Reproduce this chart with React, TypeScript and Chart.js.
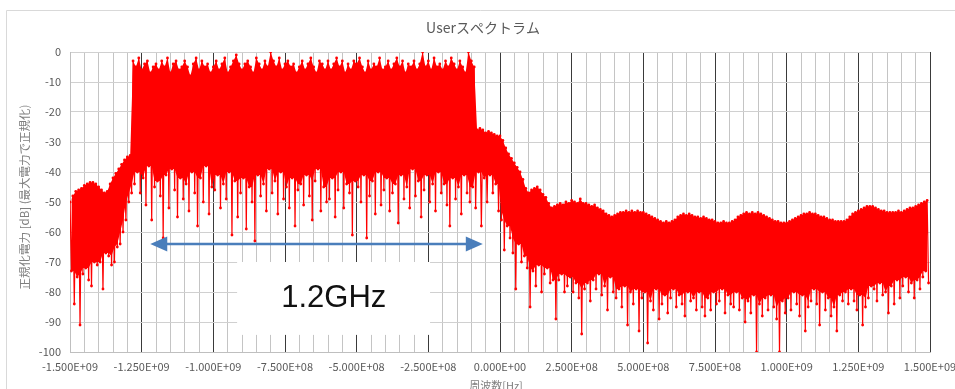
import React, { useEffect, useRef } from "react";
import { Chart, registerables } from "chart.js";

Chart.register(...registerables);

// ---- text ----
const chartTitle = "Userスペクトラム";
const yAxisTitle = "正規化電力 [dB] (最大電力で正規化)";
const xAxisTitle = "周波数[Hz]";
const spanLabel = "1.2GHz";

// ---- axes ----
const xMinHz = -1.5e9;
const xMaxHz = 1.5e9;
const xMinorStepHz = 5e7;
const xMajorEvery = 5; // one labelled tick every 2.5E+08
const yMinDb = -100;
const yMaxDb = 0;
const yStepDb = 10;

// ---- spectrum: per 1E+07 Hz bin, the peak and the trough ----
const freqStartHz = -1.5e9;
const freqStepHz = 1e7;

const peakDb = [
  -50, -48, -46.5, -46, -45.5, -44.5, -44, -43.5, -43.5, -44,
  -45, -46, -47, -46.5, -44, -42, -40.5, -39, -37.5, -36,
  -35, -34.5, -3, -5, -2, -6, -4, -3, -7, -5,
  -4, -6, -3, -5, -2, -7, -4, -3, -6, -5,
  -3, -5, -8, -4, -2, -6, -3, -5, -4, -7,
  -5, -3, -6, -4, -2, -7, -5, -3, -1, -4,
  -6, -4, -3, -5, -7, -2, -4, -6, -3, -5,
  0, -3, -5, -2, -6, -4, -3, -5, -4, -7,
  -5, -3, -6, -4, -2, -5, -7, -3, -4, -6,
  -3, -6, -4, -2, -5, -3, -7, -4, -6, -3,
  -4, -2, -5, -7, -3, -6, -4, -5, -2, -6,
  -5, -3, -6, -4, -2, -5, -3, -7, -4, -5,
  -3, -6, -4, 0, -5, -3, -6, -2, -5, -4,
  -6, -3, -5, -2, -4, -6, -3, -5, -7, 0,
  -3, -5, -26, -25.5, -26, -27, -26.5, -27, -27.5, -28,
  -28, -29.5, -32, -34, -35.5, -37, -38.5, -40, -42.5, -45.5,
  -47, -46, -45.5, -45, -46, -47.5, -48.5, -50.5, -52, -51.5,
  -51, -50.5, -51, -50, -50.5, -49.5, -50, -50.5, -49, -50.5,
  -50.5, -51, -51.5, -51, -52, -52.5, -53, -54, -54.5, -55,
  -54.5, -54, -53.5, -53.5, -53, -53.5, -53, -53.5, -53, -53.5,
  -53.5, -54, -54.5, -55, -55.5, -56, -56.5, -57, -56.5, -57,
  -56.5, -56, -55, -54.5, -54, -54.5, -54, -54.5, -55, -55,
  -55.5, -55, -55.5, -56, -56, -56.5, -57, -57, -56.5, -57,
  -57, -56.5, -56, -55, -54.5, -54, -53.5, -54, -53.5, -54,
  -53.5, -54, -54.5, -55, -55.5, -56, -56.5, -56.5, -57, -57,
  -57, -56.5, -56, -55.5, -55, -54.5, -54, -54, -53.5, -54,
  -54, -54.5, -55, -55, -55.5, -56, -56, -56.5, -56.5, -56.5,
  -56.5, -56, -55, -54, -53.5, -53, -52.5, -52, -51.5, -51.5,
  -51.5, -52, -52.5, -53, -53, -53.5, -53.5, -53.5, -53.5, -53,
  -53.5, -53, -52.5, -52, -52, -51.5, -51, -50.5, -50, -49.5,
];

const troughDb = [
  -73, -84, -75, -91, -74, -72, -76, -78, -70, -71,
  -70, -79, -67, -68, -71, -70, -65, -64, -60, -56,
  -50, -47, -44, -40, -47, -42, -51, -38, -56, -45,
  -43, -48, -62, -41, -52, -39, -46, -55, -42, -49,
  -44, -53, -40, -47, -58, -42, -50, -38, -54, -45,
  -46, -41, -52, -44, -49, -40, -61, -43, -55, -47,
  -42, -59, -45, -50, -63, -41, -48, -44, -53, -39,
  -47, -43, -54, -40, -49, -45, -52, -42, -58, -46,
  -44, -51, -41, -48, -56, -43, -39, -53, -45, -50,
  -49, -42, -55, -46, -40, -52, -44, -47, -61, -43,
  -45, -50, -41, -62, -48, -43, -54, -40, -51, -46,
  -42, -53, -47, -44, -57, -41, -49, -45, -52, -39,
  -48, -43, -55, -46, -41, -50, -44, -53, -40, -47,
  -44, -51, -58, -42, -49, -45, -54, -41, -47, -50,
  -45, -52, -40, -58, -42, -50, -41, -47, -44, -53,
  -56, -66, -58, -62, -67, -79, -64, -70, -68, -72,
  -85, -73, -78, -71, -80, -74, -72, -77, -76, -89,
  -76, -74, -80, -78, -75, -80, -77, -82, -94, -79,
  -77, -83, -76, -79, -74, -81, -78, -86, -75, -80,
  -82, -79, -85, -78, -91, -80, -84, -79, -93, -82,
  -80, -97, -83, -86, -79, -89, -84, -81, -87, -82,
  -79, -85, -81, -84, -88, -80, -83, -82, -86, -80,
  -85, -88, -82, -86, -80, -84, -83, -79, -87, -81,
  -84, -85, -80, -86, -82, -90, -83, -87, -81, -100,
  -84, -88, -82, -86, -81, -85, -89, -100, -83, -87,
  -82, -86, -80, -84, -88, -81, -93, -85, -83, -79,
  -84, -91, -80, -86, -82, -88, -85, -93, -81, -83,
  -80, -84, -79, -83, -86, -81, -91, -85, -82, -78,
  -79, -83, -77, -81, -80, -87, -78, -84, -76, -82,
  -78, -75, -80, -77, -82, -76, -79, -75, -73, -77,
];

// ---- annotation (bandwidth arrow and label box), in data units ----
const spanFromHz = -1.22e9;
const spanToHz = -0.06e9;
const spanLevelDb = -64;
const boxFromHz = -0.917e9;
const boxToHz = -0.244e9;
const boxTopDb = -70;
const boxBottomDb = -94.3;
const labelHz = -0.58e9;
const labelDb = -82.3;

function sci(v: number): string {
  const [m, e] = v.toExponential(3).split("e");
  const n = parseInt(e, 10);
  return m + "E" + (n < 0 ? "-" : "+") + String(Math.abs(n)).padStart(2, "0");
}

const JP = "'Noto Sans CJK JP', 'Noto Sans', sans-serif";
const RED = "#ff0000";

const overlayPlugin = {
  id: "overlay",
  beforeDatasetsDraw(chart: any) {
    const { ctx, scales } = chart;
    const x = scales.x, y = scales.y;
    const x0 = x.getPixelForValue(boxFromHz);
    const x1 = x.getPixelForValue(boxToHz);
    const y0 = y.getPixelForValue(boxTopDb);
    const y1 = y.getPixelForValue(boxBottomDb);
    ctx.save();
    ctx.fillStyle = "#ffffff";
    ctx.fillRect(x0, y0, x1 - x0, y1 - y0);
    ctx.restore();
  },
  afterDatasetsDraw(chart: any) {
    const { ctx, scales } = chart;
    const x = scales.x, y = scales.y;
    ctx.save();
    ctx.fillStyle = "#111111";
    ctx.font = "31px 'Liberation Sans', Arial, sans-serif";
    ctx.textAlign = "center";
    ctx.textBaseline = "middle";
    ctx.fillText(spanLabel, x.getPixelForValue(labelHz), y.getPixelForValue(labelDb));

    const ax0 = x.getPixelForValue(spanFromHz);
    const ax1 = x.getPixelForValue(spanToHz);
    const ay = y.getPixelForValue(spanLevelDb);
    const head = 17;
    const half = 7.5;
    const blue = "#4a7ebb";
    ctx.strokeStyle = blue;
    ctx.lineWidth = 2.5;
    ctx.beginPath();
    ctx.moveTo(ax0 + head - 2, ay);
    ctx.lineTo(ax1 - head + 2, ay);
    ctx.stroke();
    ctx.fillStyle = blue;
    ctx.beginPath();
    ctx.moveTo(ax0, ay);
    ctx.lineTo(ax0 + head, ay - half);
    ctx.lineTo(ax0 + head, ay + half);
    ctx.closePath();
    ctx.fill();
    ctx.beginPath();
    ctx.moveTo(ax1, ay);
    ctx.lineTo(ax1 - head, ay - half);
    ctx.lineTo(ax1 - head, ay + half);
    ctx.closePath();
    ctx.fill();
    ctx.restore();
  },
  afterDraw(chart: any) {
    const { ctx } = chart;
    ctx.save();
    ctx.strokeStyle = "#d9d9d9";
    ctx.lineWidth = 1;
    ctx.beginPath();
    ctx.moveTo(6.5, 389);
    ctx.lineTo(6.5, 10.5);
    ctx.lineTo(955, 10.5);
    ctx.stroke();
    ctx.fillStyle = "#595959";
    ctx.textAlign = "center";
    ctx.textBaseline = "middle";
    ctx.font = "14px " + JP;
    ctx.fillText(chartTitle, 483, 28);
    ctx.fillStyle = "#7f7f7f";
    ctx.font = "11px " + JP;
    ctx.fillText(xAxisTitle, 496, 386);
    ctx.translate(25, 197);
    ctx.rotate(-Math.PI / 2);
    ctx.font = "11.5px " + JP;
    ctx.fillText(yAxisTitle, 0, 0);
    ctx.restore();
  },
};

export default function App() {
  const ref = useRef<HTMLCanvasElement | null>(null);

  useEffect(() => {
    if (!ref.current) return;
    const trace: { x: number; y: number }[] = [];
    const peaks: { x: number; y: number }[] = [];
    const floor: { x: number; y: number }[] = [];
    peakDb.forEach((p, i) => {
      const f = freqStartHz + i * freqStepHz;
      trace.push({ x: f, y: p });
      trace.push({ x: f + freqStepHz / 2, y: troughDb[i] });
      peaks.push({ x: f, y: p });
      // solid body of the trace: the shallowest trough among neighbouring bins
      const a = troughDb[Math.max(0, i - 1)];
      const b = troughDb[i];
      const c = troughDb[Math.min(troughDb.length - 1, i + 1)];
      floor.push({ x: f + freqStepHz / 2, y: Math.max(a, b, c) });
    });

    const isMajor = (v: number) => Math.round(v / xMinorStepHz) % xMajorEvery === 0;

    const chart = new Chart(ref.current, {
      type: "line",
      data: {
        datasets: [
          {
            data: peaks,
            borderWidth: 0,
            borderColor: RED,
            pointRadius: 0,
            fill: false,
            order: 3,
          },
          {
            data: floor,
            borderWidth: 0,
            borderColor: RED,
            backgroundColor: RED,
            pointRadius: 0,
            fill: "-1",
            order: 2,
          },
          {
            data: trace,
            borderColor: RED,
            borderWidth: 1.2,
            pointRadius: 1.4,
            pointBackgroundColor: RED,
            pointBorderWidth: 0,
            tension: 0,
            fill: false,
            order: 1,
          },
        ],
      },
      options: {
        responsive: false,
        animation: false,
        devicePixelRatio: 1,
        layout: { padding: { top: 52, right: 25, bottom: 0, left: 0 } },
        plugins: {
          legend: { display: false },
          tooltip: { enabled: false },
          title: { display: false },
        },
        scales: {
          x: {
            type: "linear",
            min: xMinHz,
            max: xMaxHz,
            afterFit: (s: any) => {
              s.height = 37;
              s.paddingLeft = 0;
              s.paddingRight = 0;
            },
            ticks: {
              stepSize: xMinorStepHz,
              autoSkip: false,
              maxRotation: 0,
              minRotation: 0,
              padding: 8,
              color: "#595959",
              font: { size: 11, family: JP },
              callback: (v: any) =>
                isMajor(Number(v)) ? sci(Math.round(Number(v) / xMinorStepHz) * xMinorStepHz) : "",
            },
            grid: {
              drawTicks: false,
              lineWidth: 1,
              color: (c: any) => {
                if (!c.tick) return "#c4c4c4";
                if (c.index === 0) return "#bfbfbf";
                return isMajor(c.tick.value) ? "#3a3a3a" : "#c4c4c4";
              },
            },
            border: { color: "#bfbfbf" },
          },
          y: {
            min: yMinDb,
            max: yMaxDb,
            afterFit: (s: any) => {
              s.width = 70;
              s.paddingTop = 0;
              s.paddingBottom = 0;
            },
            ticks: {
              stepSize: yStepDb,
              padding: 9,
              color: "#595959",
              font: { size: 11, family: JP },
            },
            grid: { drawTicks: false, color: "#d0d0d0", lineWidth: 1 },
            border: { color: "#bfbfbf" },
          },
        },
      },
      plugins: [overlayPlugin],
    } as any);

    return () => chart.destroy();
  }, []);

  return (
    <div style={{ position: "fixed", left: 0, top: 0, width: 955, height: 389, background: "#fff" }}>
      <canvas ref={ref} width={955} height={389} style={{ display: "block" }} />
    </div>
  );
}
